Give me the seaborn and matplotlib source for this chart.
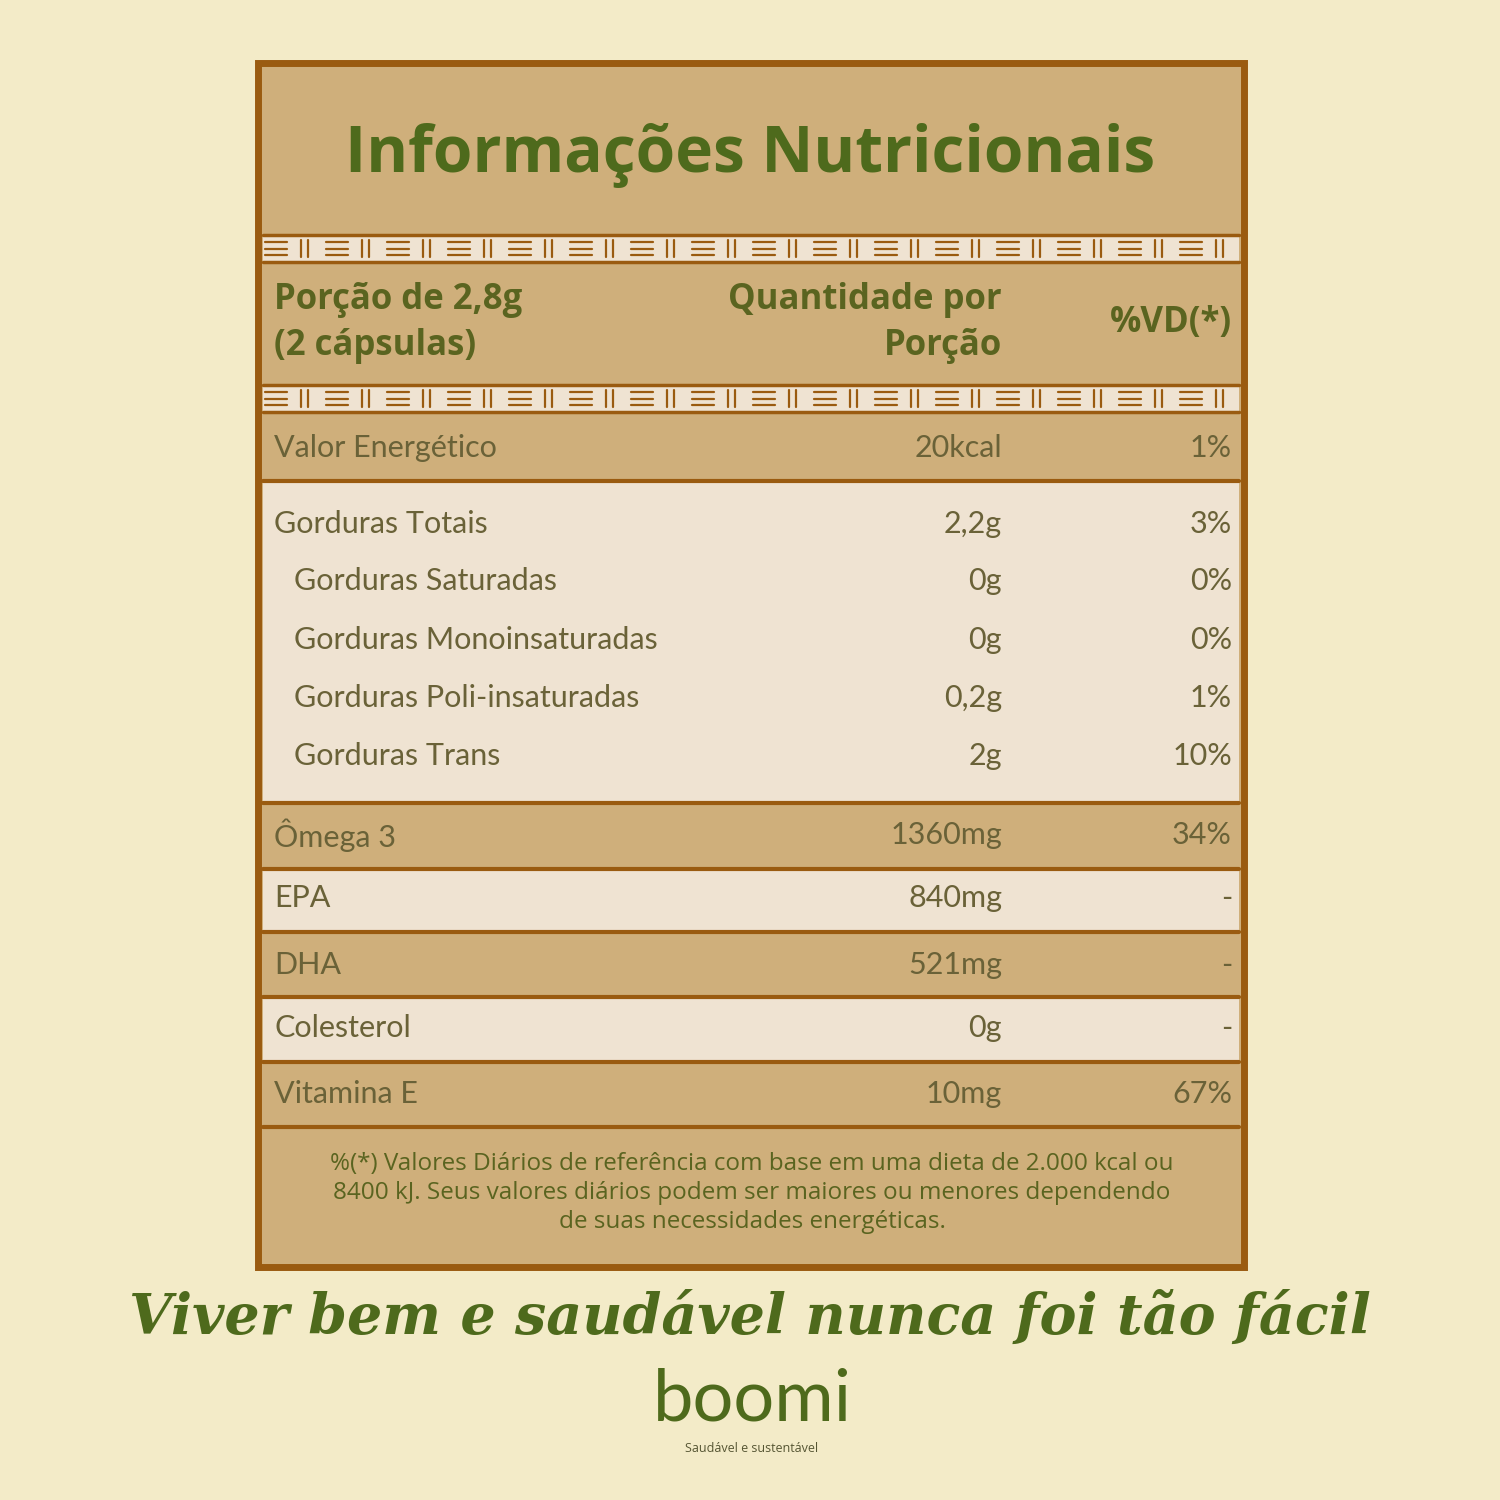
import matplotlib
matplotlib.use("Agg")
import matplotlib.pyplot as plt
from matplotlib.patches import Rectangle
import seaborn as sns

sns.set_theme(style="white")

title = "Informações Nutricionais"
header = ["Porção de 2,8g\n(2 cápsulas)", "Quantidade por\nPorção", "%VD(*)"]
nutrients = ["Valor Energético", "Gorduras Totais", "Gorduras Saturadas", "Gorduras Monoinsaturadas",
             "Gorduras Poli-insaturadas", "Gorduras Trans", "Ômega 3", "EPA", "DHA", "Colesterol", "Vitamina E"]
amounts = ["20kcal", "2,2g", "0g", "0g", "0,2g", "2g", "1360mg", "840mg", "521mg", "0g", "10mg"]
vd = ["1%", "3%", "0%", "0%", "1%", "10%", "34%", "-", "-", "-", "67%"]
indent = [0, 0, 1, 1, 1, 1, 0, 0, 0, 0, 0]
footnote = ("%(*) Valores Diários de referência com base em uma dieta de 2.000 kcal ou\n"
            "8400 kJ. Seus valores diários podem ser maiores ou menores dependendo\n"
            "de suas necessidades energéticas.")
slogan = "Viver bem e saudável nunca foi tão fácil"

BG = "#F3EBC8"; BROWN = "#9A5B10"; TAN = "#CFAF7B"; LIGHT = "#EFE3D2"
GREEN = "#4E6A1C"; TXT = "#6A6238"; HTXT = "#5A6420"

fig = plt.figure(figsize=(15, 15), dpi=100, facecolor=BG)
ax = fig.add_axes([0, 0, 1, 1])
ax.set_xlim(0, 1500); ax.set_ylim(1500, 0); ax.axis("off")
ax.set_facecolor(BG)

def rect(x0, y0, x1, y1, fc, ec="none", lw=0):
    ax.add_patch(Rectangle((x0, y0), x1 - x0, y1 - y0, facecolor=fc, edgecolor=ec, linewidth=lw))

L, R = 263, 1239
rect(258, 63, 1244, 1267, TAN, BROWN, 5)
ax.text(750, 155, title, ha="center", va="center", fontsize=46, fontweight="bold",
        color=GREEN, family="Open Sans")

def pattern(y0, y1):
    rect(L, y0, R, y1, LIGHT)
    ax.plot([L, R], [y0, y0], color=BROWN, lw=2.5)
    ax.plot([L, R], [y1, y1], color=BROWN, lw=2.5)
    x = L + 2
    while x < R - 10:
        for k in range(3):
            yy = y0 + 7 + k * (y1 - y0 - 14) / 2
            ax.plot([x, x + 22], [yy, yy], color=BROWN, lw=1.6)
        for dx in (36, 43):
            if x + dx < R - 2:
                ax.plot([x + dx, x + dx], [y0 + 5, y1 - 5], color=BROWN, lw=1.6)
        x += 61
pattern(235, 262)
pattern(385, 412)

ax.text(274, 323, header[0], ha="left", va="center", fontsize=25, fontweight="bold",
        color=HTXT, family="Open Sans", linespacing=1.35)
ax.text(1002, 323, header[1], ha="right", va="center", fontsize=25, fontweight="bold",
        color=HTXT, family="Open Sans", linespacing=1.35)
ax.text(1232, 323, header[2], ha="right", va="center", fontsize=25, fontweight="bold",
        color=HTXT, family="Open Sans")

ycent = [448, 524, 581, 640, 698, 756, 835, 898, 965, 1028, 1094]
bands = [(413, 481, TAN), (481, 803, LIGHT), (803, 869, TAN), (869, 932, LIGHT),
         (932, 997, TAN), (997, 1062, LIGHT), (1062, 1127, TAN)]
for y0, y1, c in bands:
    rect(L, y0, R, y1, c)
    ax.plot([L, R], [y1, y1], color=BROWN, lw=3)
for name, a, v, ind, y in zip(nutrients, amounts, vd, indent, ycent):
    ax.text(274 + 20 * ind, y, name, ha="left", va="center", fontsize=22, color=TXT, family="Lato")
    ax.text(1002, y, a, ha="right", va="center", fontsize=22, color=TXT, family="Lato")
    ax.text(1232, y, v, ha="right", va="center", fontsize=22, color=TXT, family="Lato")

ax.text(752, 1193, footnote, ha="center", va="center", fontsize=17.5, color=HTXT,
        family="Open Sans", linespacing=1.3)

ax.text(750, 1318, slogan, ha="center", va="center", fontsize=40, fontweight="bold",
        fontstyle="italic", color=GREEN, family="DejaVu Serif")
ax.text(752, 1400, "boomi", ha="center", va="center", fontsize=52, color=GREEN, family="Lato")
ax.text(752, 1448, "Saudável e sustentável", ha="center", va="center", fontsize=9, color="#555533",
        family="Open Sans")

fig.savefig("out.png", dpi=100, facecolor=BG)
